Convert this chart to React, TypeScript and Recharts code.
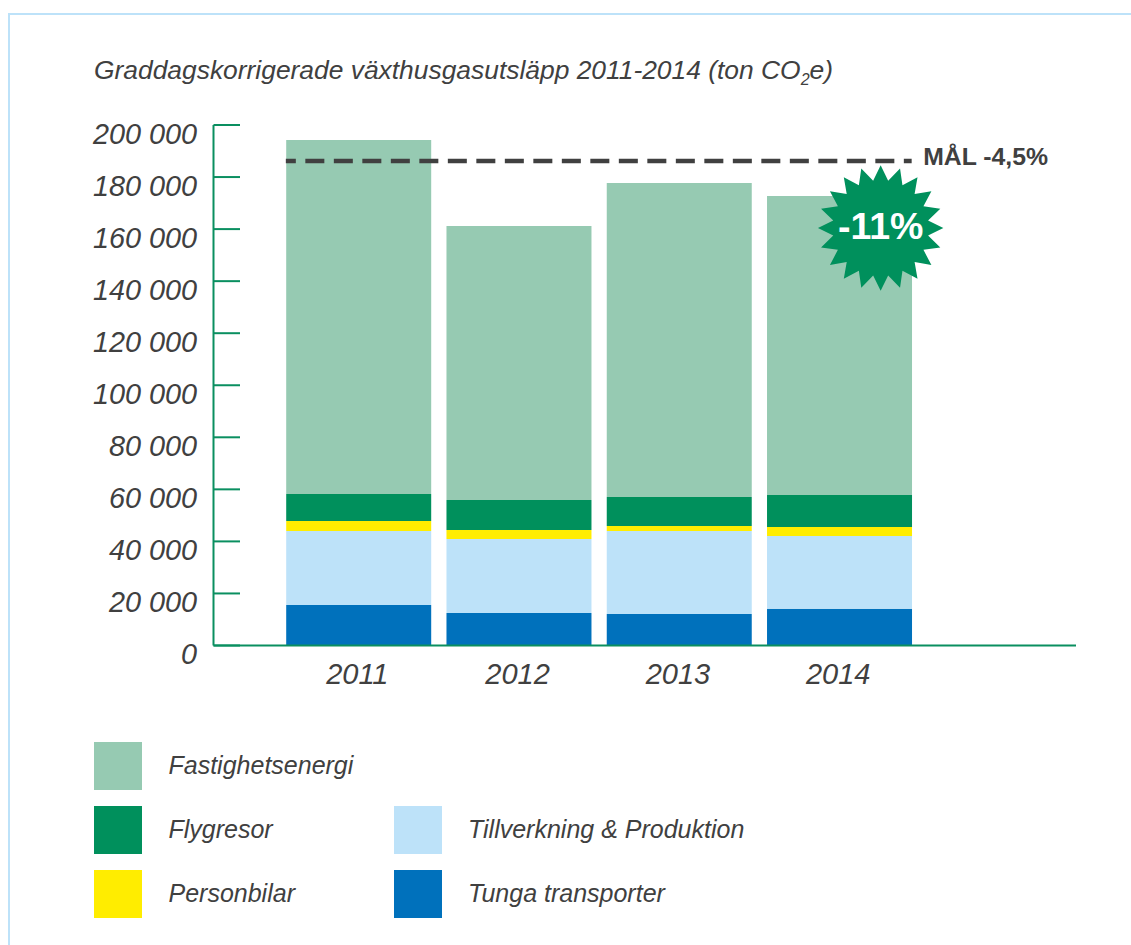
import React from "react";
import {
  BarChart,
  Bar,
  XAxis,
  YAxis,
  Legend,
  ReferenceLine,
  ReferenceDot,
} from "recharts";

const years = ["2011", "2012", "2013", "2014"];
const tungaTransporter = [15600, 12500, 12100, 14100];
const tillverkning = [28400, 28400, 31900, 28000];
const personbilar = [3800, 3500, 1900, 3400];
const flygresor = [10400, 11500, 11200, 12300];
const fastighetsenergi = [136000, 105300, 120600, 114900];
const yTicks = [0, 20000, 40000, 60000, 80000, 100000, 120000, 140000, 160000, 180000, 200000];
const goalValue = 186200;
const goalLabel = "MÅL -4,5%";
const badgeValue = 160400;
const badgeLabel = "-11%";

const legendItems = [
  { name: "Fastighetsenergi", color: "#96cab2", column: 0, row: 0 },
  { name: "Flygresor", color: "#00905c", column: 0, row: 1 },
  { name: "Personbilar", color: "#ffed00", column: 0, row: 2 },
  { name: "Tillverkning & Produktion", color: "#bde2f9", column: 1, row: 1 },
  { name: "Tunga transporter", color: "#0071bc", column: 1, row: 2 },
];

const chartData = years.map((year, i) => ({
  year,
  tunga: tungaTransporter[i],
  tillverkning: tillverkning[i],
  personbilar: personbilar[i],
  flygresor: flygresor[i],
  fastighet: fastighetsenergi[i],
}));

const FONT = '"Liberation Sans", Arial, sans-serif';
const TEXT = "#404040";
const AXIS = "#0a8f60";
const BAR_WIDTH = 145;

const YTick = ({ x, y, payload }: any) => (
  <g>
    <line x1={x} x2={x + 26.5} y1={y} y2={y} stroke={AXIS} strokeWidth={2} />
    <text
      x={x - 16.5}
      y={y + 18.5}
      textAnchor="end"
      fontFamily={FONT}
      fontStyle="italic"
      fontSize={28.8}
      fill={TEXT}
    >
      {String(payload.value).replace(/\B(?=(\d{3})+$)/g, " ")}
    </text>
  </g>
);

const XTick = ({ x, y, payload }: any) => (
  <text
    x={x - 1}
    y={y + 36}
    textAnchor="middle"
    fontFamily={FONT}
    fontStyle="italic"
    fontSize={29}
    fill={TEXT}
  >
    {payload.value}
  </text>
);

const GoalLine = ({ x1, x2, y1 }: any) => {
  const left = x1 - BAR_WIDTH / 2;
  const right = x2 + BAR_WIDTH / 2;
  return (
    <g>
      <line
        x1={left}
        x2={right}
        y1={y1}
        y2={y1}
        stroke={TEXT}
        strokeWidth={4.5}
        strokeDasharray="19 9.5"
        strokeDashoffset={9}
      />
      <text x={right + 11.5} y={y1 + 4} fontFamily={FONT} fontWeight="bold" fontSize={24.8} fill={TEXT}>
        {goalLabel}
      </text>
    </g>
  );
};

const Badge = ({ cx, cy }: any) => {
  const bx = cx + 41.5;
  const spikes = 20;
  const points: string[] = [];
  for (let i = 0; i < spikes * 2; i++) {
    const r = i % 2 === 0 ? 62.7 : 48;
    const a = (i * Math.PI) / spikes;
    points.push(`${bx + r * Math.sin(a)},${cy - r * Math.cos(a)}`);
  }
  return (
    <g>
      <polygon points={points.join(" ")} fill="#00905c" />
      <text
        x={bx}
        y={cy + 10.5}
        textAnchor="middle"
        fontFamily={FONT}
        fontWeight="bold"
        fontSize={37.5}
        fill="#ffffff"
      >
        {badgeLabel}
      </text>
    </g>
  );
};

const LegendBlock = () => (
  <div style={{ position: "relative", width: 1131, height: 945 }}>
    {legendItems.map((item) => (
      <React.Fragment key={item.name}>
        <div
          style={{
            position: "absolute",
            left: 94 + item.column * 300,
            top: 742 + item.row * 64,
            width: 48,
            height: 48,
            background: item.color,
          }}
        />
        <div
          style={{
            position: "absolute",
            left: 168.5 + item.column * 299.5,
            top: 750 + item.row * 64,
            fontFamily: FONT,
            fontStyle: "italic",
            fontSize: 25,
            lineHeight: "30px",
            color: TEXT,
            whiteSpace: "nowrap",
          }}
        >
          {item.name}
        </div>
      </React.Fragment>
    ))}
  </div>
);

export default function App() {
  return (
    <div
      style={{
        position: "absolute",
        left: 0,
        top: 0,
        width: 1131,
        height: 945,
        overflow: "hidden",
        background: "#fff",
      }}
    >
      <div
        style={{
          position: "absolute",
          left: 8,
          top: 13,
          width: 1123,
          height: 932,
          borderTop: "2px solid #bde2f9",
          borderLeft: "2px solid #bde2f9",
          boxSizing: "border-box",
        }}
      />
      <div
        style={{
          position: "absolute",
          left: 94,
          top: 55,
          fontFamily: FONT,
          fontStyle: "italic",
          fontSize: 26.4,
          lineHeight: "30px",
          color: TEXT,
          whiteSpace: "nowrap",
        }}
      >
        Graddagskorrigerade växthusgasutsläpp 2011-2014 (ton CO
        <span style={{ fontSize: 16, position: "relative", top: 6 }}>2</span>e)
      </div>
      <BarChart
        width={1131}
        height={945}
        data={chartData}
        margin={{ top: 125, right: 55, bottom: 259.5, left: 113.5 }}
        style={{ position: "absolute", left: 0, top: 0 }}
      >
        <XAxis
          dataKey="year"
          height={40}
          padding={{ left: 64.7, right: 156.7 }}
          axisLine={{ stroke: AXIS, strokeWidth: 2 }}
          tickLine={false}
          tickSize={0}
          tick={<XTick />}
        />
        <YAxis
          width={100}
          domain={[0, 200000]}
          ticks={yTicks}
          interval={0}
          axisLine={{ stroke: AXIS, strokeWidth: 2 }}
          tickLine={false}
          tickSize={0}
          tickMargin={0}
          tick={<YTick />}
        />
        <Legend
          layout="vertical"
          align="center"
          verticalAlign="middle"
          wrapperStyle={{ left: 0, top: 0, width: 1131, height: 945, pointerEvents: "none" }}
          content={<LegendBlock />}
        />
        <Bar dataKey="tunga" stackId="a" fill="#0071bc" barSize={BAR_WIDTH} isAnimationActive={false} />
        <Bar dataKey="tillverkning" stackId="a" fill="#bde2f9" barSize={BAR_WIDTH} isAnimationActive={false} />
        <Bar dataKey="personbilar" stackId="a" fill="#ffed00" barSize={BAR_WIDTH} isAnimationActive={false} />
        <Bar dataKey="flygresor" stackId="a" fill="#00905c" barSize={BAR_WIDTH} isAnimationActive={false} />
        <Bar dataKey="fastighet" stackId="a" fill="#96cab2" barSize={BAR_WIDTH} isAnimationActive={false} />
        <ReferenceLine
          segment={[
            { x: years[0], y: goalValue },
            { x: years[3], y: goalValue },
          ]}
          shape={<GoalLine />}
        />
        <ReferenceDot x={years[3]} y={badgeValue} r={1} shape={<Badge />} />
      </BarChart>
    </div>
  );
}
